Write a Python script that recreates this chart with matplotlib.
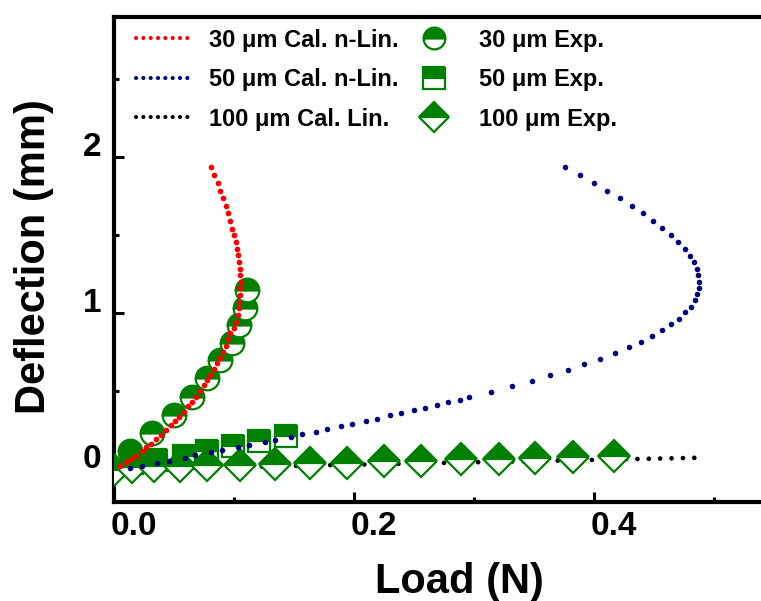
import matplotlib
matplotlib.use("Agg")
import matplotlib.pyplot as plt
from matplotlib.lines import Line2D
from matplotlib.ticker import MultipleLocator
from matplotlib.transforms import ScaledTranslation

plt.rcParams['font.family'] = ['Liberation Sans', 'DejaVu Sans']
plt.rcParams['font.weight'] = 'bold'

# 30 um calculated, non-linear
cal30_x = [0.005, 0.010, 0.0145, 0.0186, 0.0233, 0.027, 0.031, 0.035, 0.039, 0.0436,
           0.0475, 0.051, 0.0544, 0.058, 0.0617, 0.065, 0.068, 0.0714, 0.0747, 0.0775,
           0.080, 0.083, 0.086, 0.088, 0.0906, 0.093, 0.095, 0.097,
           0.0997, 0.1017, 0.103, 0.104, 0.1044, 0.105, 0.1053, 0.1055, 0.1053, 0.1047,
           0.104, 0.1033, 0.1025, 0.1014, 0.100, 0.0986, 0.097, 0.095, 0.093, 0.0908,
           0.0886, 0.0864, 0.0836, 0.081]
cal30_y = [0.015, 0.043, 0.064, 0.083, 0.111, 0.137, 0.160, 0.190, 0.218, 0.250,
           0.278, 0.308, 0.335, 0.367, 0.40, 0.43, 0.46, 0.50, 0.534, 0.57,
           0.60, 0.64, 0.68, 0.71, 0.75, 0.79, 0.83, 0.87,
           0.90, 0.944, 0.987, 1.03, 1.07, 1.115, 1.156, 1.20, 1.24, 1.284,
           1.327, 1.37, 1.41, 1.457, 1.50, 1.54, 1.59, 1.64, 1.686, 1.735,
           1.78, 1.83, 1.885, 1.938]

# 50 um calculated, non-linear
cal50_x = [0.013, 0.023, 0.036, 0.046, 0.059, 0.0675, 0.081, 0.090, 0.103, 0.1125,
           0.126, 0.134, 0.1475, 0.157, 0.168, 0.1775, 0.189, 0.198, 0.210, 0.219,
           0.230, 0.239, 0.250, 0.259, 0.269, 0.278, 0.288, 0.296, 0.314, 0.332,
           0.348, 0.363, 0.378, 0.392, 0.405, 0.4175, 0.429, 0.439, 0.448, 0.4567,
           0.464, 0.4706, 0.476, 0.4806, 0.484, 0.486, 0.4875, 0.4878, 0.487, 0.4856,
           0.483, 0.480, 0.4756, 0.470, 0.464, 0.457, 0.449, 0.441, 0.432, 0.422,
           0.411, 0.400, 0.3886, 0.376]
cal50_y = [0.006, 0.019, 0.038, 0.051, 0.0705, 0.090, 0.109, 0.122, 0.141, 0.154,
           0.173, 0.186, 0.205, 0.224, 0.237, 0.256, 0.276, 0.288, 0.308, 0.322,
           0.342, 0.357, 0.374, 0.389, 0.408, 0.425, 0.442, 0.46, 0.494, 0.528,
           0.564, 0.598, 0.635, 0.671, 0.705, 0.742, 0.778, 0.814, 0.851, 0.887,
           0.925, 0.962, 1.002, 1.04, 1.081, 1.12, 1.16, 1.20, 1.242, 1.282,
           1.325, 1.365, 1.408, 1.453, 1.498, 1.543, 1.59, 1.637, 1.684, 1.733,
           1.782, 1.831, 1.883, 1.934]

# 100 um calculated, linear
cal100_x = [0.0, 0.49]
cal100_y = [-0.005, 0.071]

# experiments
exp30_x = [0.0136, 0.0317, 0.0497, 0.065, 0.0775, 0.0886, 0.098, 0.104, 0.109, 0.111]
exp30_y = [0.111, 0.229, 0.346, 0.46, 0.58, 0.699, 0.806, 0.923, 1.03, 1.147]

exp50_x = [0.015, 0.035, 0.0586, 0.0775, 0.0995, 0.121, 0.143]
exp50_y = [0.04, 0.058, 0.081, 0.115, 0.147, 0.18, 0.21]

exp100_x = [0.0, 0.015, 0.033, 0.055, 0.0775, 0.105, 0.134, 0.163, 0.194, 0.225,
            0.256, 0.289, 0.321, 0.351, 0.3825, 0.417]
exp100_y = [-0.01, 0.01, 0.015, 0.02, 0.022, 0.026, 0.03, 0.036, 0.04, 0.047,
            0.047, 0.062, 0.062, 0.07, 0.075, 0.083]

green = '#008000'

fig = plt.figure(figsize=(7.61, 6.01), dpi=100)
ax = fig.add_axes([114/761, 99.5/601, 660/761, 485/601])

ax.plot(cal100_x, cal100_y, color='black', lw=3.4, dashes=(0.01, 2.4),
        dash_capstyle='round', zorder=1)
h30, = ax.plot(exp30_x, exp30_y, ls='none', marker='o', ms=17, fillstyle='top',
               mfc=green, mfcalt='white', mec=green, mew=1.6, zorder=2)
h50, = ax.plot(exp50_x, exp50_y, ls='none', marker='s', ms=16.5, fillstyle='top',
               mfc=green, mfcalt='white', mec=green, mew=1.6, zorder=3)
h100, = ax.plot(exp100_x, exp100_y, ls='none', marker='D', ms=16.5, fillstyle='top',
                mfc=green, mfcalt='white', mec=green, mew=1.6, zorder=4)
ax.plot(cal30_x, cal30_y, ls='none', marker='o', ms=4.1, mew=0, color='red', zorder=5)
ax.plot(cal50_x, cal50_y, ls='none', marker='o', ms=4.0, mew=0, color='#000080', zorder=6)

ax.set_xlim(0, 0.55)
ax.set_ylim(-0.21, 2.9)
ax.set_xticks([0.0, 0.2, 0.4])
ax.set_xticklabels(['0.0', '0.2', '0.4'])
ax.set_yticks([0, 1, 2])
ax.xaxis.set_minor_locator(MultipleLocator(0.1))
ax.yaxis.set_minor_locator(MultipleLocator(0.5))

for s in ax.spines.values():
    s.set_linewidth(3)
ax.spines['right'].set_visible(False)
ax.tick_params(which='both', direction='in', top=False, right=False, width=2.2)
ax.tick_params(which='major', length=7, labelsize=24)
ax.tick_params(axis='x', which='major', pad=7)
ax.tick_params(axis='y', which='major', pad=9)
ax.tick_params(which='minor', length=3.5)

# tick labels sit a little off their ticks in the original
dx = ScaledTranslation(0.2, 0, fig.dpi_scale_trans)
for lab in ax.get_xticklabels():
    lab.set_transform(lab.get_transform() + dx)
dy = ScaledTranslation(0, 0.13, fig.dpi_scale_trans)
for lab in ax.get_yticklabels():
    lab.set_transform(lab.get_transform() + dy)

ax.set_xlabel('Load (N)', fontsize=30, fontweight='bold')
ax.set_ylabel('Deflection (mm)', fontsize=30, fontweight='bold')
ax.xaxis.set_label_coords(0.524, -0.125)
ax.yaxis.set_label_coords(-0.091, 0.505)

l30 = Line2D([], [], color='red', lw=3, dashes=(0.01, 1.75), dash_capstyle='round')
l50 = Line2D([], [], color='#000080', lw=3, dashes=(0.01, 1.75), dash_capstyle='round')
l100 = Line2D([], [], color='black', lw=3, dashes=(0.01, 1.75), dash_capstyle='round')
handles = [l30, l50, l100, h30, h50, h100]
labels = ['30 \u03bcm Cal. n-Lin.', '50 \u03bcm Cal. n-Lin.', '100 \u03bcm Cal. Lin.',
          '30 \u03bcm Exp.', '50 \u03bcm Exp.', '100 \u03bcm Exp.']
ax.legend(handles, labels, ncol=2, loc='upper left', bbox_to_anchor=(0.033, 0.975),
          frameon=False, borderpad=0, borderaxespad=0, markerscale=0.92,
          handlelength=2.33, handletextpad=0.75, columnspacing=0.35, labelspacing=0.7,
          prop={'weight': 'bold', 'size': 17})

fig.savefig('out.png', dpi=100)
